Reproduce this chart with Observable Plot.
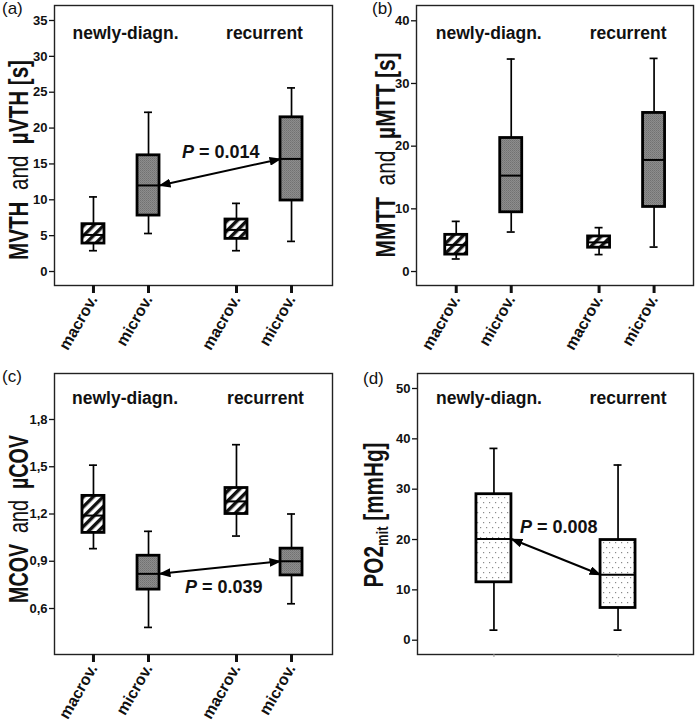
<!DOCTYPE html>
<html>
<head>
<meta charset="utf-8">
<script src="https://cdn.jsdelivr.net/npm/d3@7"></script>
<script src="https://cdn.jsdelivr.net/npm/@observablehq/plot@0.6"></script>
<style>
body{margin:0;background:#fff;}
#wrap{position:relative;width:700px;height:723px;overflow:hidden;font-family:"Liberation Sans",Arial,sans-serif;background:#fff;}
.panel{position:absolute;}
.plab{position:absolute;font-size:17px;line-height:17px;color:#111;font-family:"Liberation Sans",Arial,sans-serif;}
g[aria-label="y-axis tick label"] text{font-weight:bold;font-size:13px;}
g[aria-label="x-axis tick label"] text{font-weight:bold;font-size:16px;}
g[aria-label="group-title"] text{letter-spacing:1px;}
</style>
</head>
<body>
<svg width="0" height="0" style="position:absolute;left:0;top:0">
  <defs>
    <pattern id="hatch" width="7" height="7" patternUnits="userSpaceOnUse" patternTransform="rotate(45)">
      <rect width="7" height="7" fill="#fff"/>
      <rect width="3.4" height="7" fill="#111"/>
    </pattern>
    <pattern id="stipple" width="2" height="2" patternUnits="userSpaceOnUse">
      <rect width="2" height="2" fill="#8d8d8d"/>
      <rect width="1" height="1" fill="#717171"/>
      <rect x="1" y="1" width="1" height="1" fill="#7c7c7c"/>
    </pattern>
    <pattern id="dots" width="6" height="10" patternUnits="userSpaceOnUse">
      <rect width="6" height="10" fill="#fff"/>
      <rect x="1" y="2" width="1.2" height="1.2" fill="#8a8a8a"/>
      <rect x="4" y="7" width="1.2" height="1.2" fill="#8a8a8a"/>
    </pattern>
    <marker id="ahead" viewBox="0 0 12 9" refX="11" refY="4.5" markerWidth="12" markerHeight="9" markerUnits="userSpaceOnUse" orient="auto-start-reverse">
      <path d="M0,0L12,4.5L0,9Z" fill="#000"/>
    </marker>
  </defs>
</svg>
<div id="wrap"></div>
<script>
// ---------- data ----------
const groups = ["newly-diagn.", "recurrent"];
const vessels = ["macrov.", "microv."];

// (a) MVTH and µVTH [s] ; order: newly macrov., newly microv., recurrent macrov., recurrent microv.
const vthLow  = [2.9, 5.3, 2.9, 4.2];
const vthQ1   = [3.9, 7.8, 4.55, 9.9];
const vthMed  = [5.1, 12.0, 5.8, 15.7];
const vthQ3   = [6.6, 16.2, 7.25, 21.5];
const vthHigh = [10.4, 22.2, 9.5, 25.6];
const vthTicks = [0, 5, 10, 15, 20, 25, 30, 35];
const vthP = "0.014";

// (b) MMTT and µMTT [s]
const mttLow  = [2.0, 6.3, 2.7, 3.9];
const mttQ1   = [2.7, 9.45, 3.8, 10.3];
const mttMed  = [4.25, 15.3, 4.65, 17.8];
const mttQ3   = [5.85, 21.3, 5.6, 25.3];
const mttHigh = [8.0, 33.9, 7.0, 34.0];
const mttTicks = [0, 10, 20, 30, 40];

// (c) MCOV and µCOV
const covLow  = [0.98, 0.48, 1.06, 0.63];
const covQ1   = [1.08, 0.72, 1.2, 0.81];
const covMed  = [1.19, 0.82, 1.28, 0.90];
const covQ3   = [1.315, 0.935, 1.365, 0.98];
const covHigh = [1.51, 1.09, 1.64, 1.2];
const covTicks = [0.6, 0.9, 1.2, 1.5, 1.8];
const covP = "0.039";

// (d) PO2mit [mmHg] ; order: newly-diagn., recurrent
const po2Low  = [2.0, 2.0];
const po2Q1   = [11.5, 6.4];
const po2Med  = [20.1, 13.0];
const po2Q3   = [29.0, 19.9];
const po2High = [38.1, 34.8];
const po2Ticks = [0, 10, 20, 30, 40, 50];
const po2P = "0.008";

// ---------- helpers ----------
const SPREAD = 0.385;
function makeRows(low, q1, med, q3, high) {
  if (low.length === 4) {
    return groups.flatMap((g, gi) => vessels.map((v, vi) => {
      const i = gi * 2 + vi;
      return {group: g, vessel: v, x: gi + (vi - 0.5) * SPREAD, low: low[i], q1: q1[i], med: med[i], q3: q3[i], high: high[i]};
    }));
  }
  return groups.map((g, gi) => ({group: g, vessel: null, x: gi, low: low[gi], q1: q1[gi], med: med[gi], q3: q3[gi], high: high[gi]}));
}

const wrap = document.getElementById("wrap");

function buildPanel(c) {
  const innerW = c.W - c.m.left - c.m.right;
  const unit = innerW / (c.xDomain[1] - c.xDomain[0]);
  const hb = c.boxPx / 2 / unit, hc = c.capPx / 2 / unit;
  const rows = c.rows;
  const labelOf = new Map(rows.map(d => [d.x, d.vessel]));
  const marks = [];
  marks.push(Plot.frame({stroke: "#222", strokeWidth: 1.4}));
  marks.push(Plot.axisY({ticks: c.yTicks, tickFormat: c.yFmt, tickSize: 5, tickPadding: 2, label: null, fontSize: 13, fontWeight: "bold", strokeWidth: 1.3}));
  if (c.xLabels) {
    marks.push(Plot.axisX({ticks: rows.map(d => d.x), tickFormat: v => labelOf.get(v), tickRotate: -60, tickSize: 8, tickPadding: 3, label: null, strokeWidth: 3, fontSize: 16, fontWeight: "bold"}));
  } else {
    marks.push(Plot.axisX({ticks: rows.map(d => d.x), tickFormat: () => "", tickSize: 3, label: null, stroke: "#999"}));
  }
  // whiskers and caps
  marks.push(Plot.ruleX(rows, {x: "x", y1: "low", y2: "high", stroke: "#000", strokeWidth: 1.7}));
  marks.push(Plot.ruleY(rows, {y: "low", x1: d => d.x - hc, x2: d => d.x + hc, stroke: "#000", strokeWidth: 1.7}));
  marks.push(Plot.ruleY(rows, {y: "high", x1: d => d.x - hc, x2: d => d.x + hc, stroke: "#000", strokeWidth: 1.7}));
  // boxes
  for (const [fill, keep] of c.fills) {
    marks.push(Plot.rect(rows.filter(keep), {x1: d => d.x - hb, x2: d => d.x + hb, y1: "q1", y2: "q3", fill, stroke: "#000", strokeWidth: 2.8}));
  }
  marks.push(Plot.ruleY(rows, {y: "med", x1: d => d.x - hb, x2: d => d.x + hb, stroke: "#000", strokeWidth: 2}));
  // group titles
  const titles = groups.map((g, gi) => ({g, x: gi + c.titleDx[gi] / unit}));
  marks.push(Plot.text(titles, {x: "x", text: "g", frameAnchor: "top", dy: c.titleDy, fontSize: 17.5, fontWeight: "bold", fill: "#111", ariaLabel: "group-title"}));
  // comparison arrow + P value
  if (c.pair) {
    const [a, b] = c.pair;
    const arr = [{x1: a.x + hb, y1: a.med, x2: b.x - hb, y2: b.med}];
    marks.push(Plot.link(arr, {x1: "x1", y1: "y1", x2: "x2", y2: "y2", stroke: "#000", strokeWidth: 2}));
    const mx = d => (d.x1 + d.x2) / 2, my = d => (d.y1 + d.y2) / 2;
    marks.push(Plot.text(arr, {x: mx, y: my, text: () => "P", textAnchor: "end", dx: c.pDx, dy: c.pDy, fontSize: 18, fontWeight: "bold", fontStyle: "italic", fill: "#111"}));
    marks.push(Plot.text(arr, {x: mx, y: my, text: () => "= " + c.pText, textAnchor: "start", dx: c.pDx + 5, dy: c.pDy, fontSize: 18, fontWeight: "bold", fill: "#111"}));
  }
  const svg = Plot.plot({
    width: c.W, height: c.H,
    marginLeft: c.m.left, marginRight: c.m.right, marginTop: c.m.top, marginBottom: c.m.bottom,
    x: {type: "linear", domain: c.xDomain},
    y: {type: "linear", domain: c.yDomain},
    style: {fontFamily: "'Liberation Sans', Arial, sans-serif", fontSize: "13px", background: "transparent", overflow: "visible", color: "#111"},
    marks
  });
  svg.querySelectorAll('g[aria-label="link"] path, g[aria-label="link"] line').forEach(p => {
    p.setAttribute("marker-start", "url(#ahead)");
    p.setAttribute("marker-end", "url(#ahead)");
  });
  // y-axis title with mixed weights
  const t = d3.select(svg).append("text")
    .attr("transform", `translate(${c.yl.bx},${c.yl.cy}) rotate(-90)`)
    .attr("text-anchor", "middle")
    .attr("font-size", c.yl.fs)
    .attr("font-family", "'Liberation Sans', Arial, sans-serif")
    .attr("fill", "#111")
    .attr("textLength", c.yl.len)
    .attr("lengthAdjust", "spacingAndGlyphs");
  for (const p of c.yl.parts) {
    const s = t.append("tspan").text(p.t).attr("font-weight", p.w || "bold");
    if (p.fs) s.attr("font-size", p.fs);
    if (p.dy) s.attr("dy", p.dy);
  }
  const div = document.createElement("div");
  div.className = "panel";
  div.style.left = c.left + "px";
  div.style.top = c.top + "px";
  div.appendChild(svg);
  wrap.appendChild(div);
}

const NB = "\u00a0";
const isMacro = d => d.vessel === vessels[0];
const isMicro = d => d.vessel === vessels[1];
const commaFmt = v => d3.format(".1f")(v).replace(".", ",");

// (a)
const rowsA = makeRows(vthLow, vthQ1, vthMed, vthQ3, vthHigh);
buildPanel({
  left: 0, top: 0, W: 350, H: 360, m: {left: 54, right: 18, top: 5, bottom: 75},
  rows: rowsA, xDomain: [-0.465, 1.479], yDomain: [-1.95, 37.09], yTicks: vthTicks, yFmt: d3.format("d"),
  boxPx: 22, capPx: 8, fills: [["url(#hatch)", isMacro], ["url(#stipple)", isMicro]], xLabels: true,
  titleDx: [4.5, 0.5], titleDy: 21,
  pair: [rowsA[1], rowsA[3]], pText: vthP, pDx: -26, pDy: -19.5,
  yl: {bx: 28, cy: 160, len: 200, fs: 27, parts: [{t: "MVTH" + NB + NB}, {t: "and", w: "normal"}, {t: NB + NB + "µVTH [s]"}]}
});

// (b)
const rowsB = makeRows(mttLow, mttQ1, mttMed, mttQ3, mttHigh);
buildPanel({
  left: 350, top: 0, W: 350, H: 360, m: {left: 66, right: 7, top: 5, bottom: 75},
  rows: rowsB, xDomain: [-0.4706, 1.4685], yDomain: [-2.23, 42.44], yTicks: mttTicks, yFmt: d3.format("d"),
  boxPx: 22, capPx: 8, fills: [["url(#hatch)", isMacro], ["url(#stipple)", isMicro]], xLabels: true,
  titleDx: [5, 1.5], titleDy: 21,
  pair: null,
  yl: {bx: 45, cy: 155, len: 205, fs: 27, parts: [{t: "MMTT" + NB + NB}, {t: "and", w: "normal"}, {t: NB + NB + "µMTT [s]"}]}
});

// (c)
const rowsC = makeRows(covLow, covQ1, covMed, covQ3, covHigh);
buildPanel({
  left: 0, top: 360, W: 350, H: 363, m: {left: 54, right: 18, top: 13, bottom: 69},
  rows: rowsC, xDomain: [-0.465, 1.479], yDomain: [0.308, 2.092], yTicks: covTicks, yFmt: commaFmt,
  boxPx: 22, capPx: 8, fills: [["url(#hatch)", isMacro], ["url(#stipple)", isMicro]], xLabels: true,
  titleDx: [4, 1.5], titleDy: 18.5,
  pair: [rowsC[1], rowsC[3]], pText: covP, pDx: -23, pDy: 19.5,
  yl: {bx: 28, cy: 159, len: 168, fs: 27, parts: [{t: "MCOV" + NB + NB}, {t: "and", w: "normal"}, {t: NB + NB + "µCOV"}]}
});

// (d)
const rowsD = makeRows(po2Low, po2Q1, po2Med, po2Q3, po2High);
buildPanel({
  left: 350, top: 360, W: 350, H: 363, m: {left: 67, right: 7, top: 13, bottom: 69},
  rows: rowsD, xDomain: [-0.616, 1.608], yDomain: [-2.84, 52.98], yTicks: po2Ticks, yFmt: d3.format("d"),
  boxPx: 35, capPx: 8, fills: [["url(#dots)", () => true]], xLabels: false,
  titleDx: [-5, 10], titleDy: 18.5,
  pair: [rowsD[0], rowsD[1]], pText: po2P, pDx: -24, pDy: -30,
  yl: {bx: 33, cy: 155, len: 145, fs: 27, parts: [{t: "PO2"}, {t: "mit", fs: 17, dy: 5, w: "bold"}, {t: NB + "[mmHg]", dy: -5}]}
});

// panel letters
[["(a)", 2, 0], ["(b)", 372, 0], ["(c)", 2, 368], ["(d)", 363, 370]].forEach(([s, x, y]) => {
  const d = document.createElement("div");
  d.className = "plab";
  d.style.left = x + "px";
  d.style.top = y + "px";
  d.textContent = s;
  wrap.appendChild(d);
});
</script>
</body>
</html>
